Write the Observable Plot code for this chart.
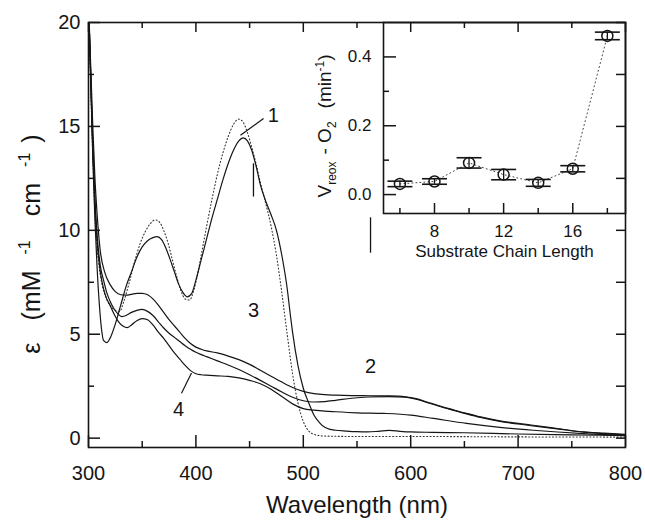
<!DOCTYPE html>
<html><head><meta charset="utf-8">
<script src="https://cdn.jsdelivr.net/npm/d3@7"></script>
<script src="https://cdn.jsdelivr.net/npm/@observablehq/plot@0.6"></script>
<style>
body{margin:0;background:#fff;}
#wrap{position:relative;width:645px;height:524px;overflow:hidden;}
#wrap svg{position:absolute;top:0;}
</style></head><body><div id="wrap"></div>
<script>
// ---------- main spectra ----------
const wl1 = [300,302,304,306,308,310,312,314,317,320,325,330,335,340,345,350,355,360,364,368,372,376,380,384,388,392,396,400,405,410,415,420,425,430,435,440,444,448,452,456,460,465,470,475,480,485,488,490,495,500,505,510,515,520,525,530,540,550,560,570,580,590,600,620,650,700,750,800];
const eps1 = [21,17.5,13.5,10.5,8.2,6.5,5.3,4.7,4.6,4.8,5.5,6.4,7.3,8.0,8.7,9.2,9.5,9.65,9.7,9.55,9.15,8.6,8.0,7.4,7.0,6.8,6.95,7.6,8.6,9.6,10.6,11.5,12.4,13.2,13.85,14.3,14.45,14.3,13.85,13.1,12.2,11.4,10.75,10.0,8.8,7.2,5.9,5.1,3.5,2.4,1.7,1.1,0.75,0.52,0.42,0.38,0.34,0.31,0.3,0.33,0.37,0.33,0.3,0.28,0.26,0.2,0.16,0.12];

const wl2 = [300,302,304,306,308,311,314,317,320,324,328,331,335,340,345,350,355,360,365,370,375,380,385,390,395,400,405,410,420,430,440,450,460,470,480,490,500,510,520,530,545,560,580,595,605,615,625,640,652,665,683,700,714,740,761,780,800];
const eps2 = [21,17.5,14,11.5,9.8,8.3,7.6,7.0,6.6,6.2,5.95,5.85,5.9,6.05,6.15,6.2,6.1,5.9,5.6,5.3,5.05,4.85,4.65,4.45,4.28,4.13,4.02,3.92,3.72,3.52,3.3,3.05,2.78,2.5,2.22,1.97,1.8,1.74,1.76,1.82,1.92,1.98,2.0,1.97,1.88,1.72,1.56,1.34,1.17,1.0,0.81,0.68,0.59,0.42,0.29,0.22,0.16];

const wl3 = [300,302,304,306,308,311,315,320,325,330,335,340,345,350,355,360,365,370,375,380,385,390,395,400,405,410,420,430,440,450,460,470,480,490,500,510,520,530,545,560,580,595,605,615,625,640,652,665,683,700,714,740,761,780,800];
const eps3 = [21,18,15,12.5,10.8,9.0,8.0,7.4,7.05,6.9,6.88,6.92,6.97,6.97,6.9,6.7,6.4,6.05,5.7,5.4,5.1,4.8,4.55,4.38,4.28,4.2,4.1,3.95,3.78,3.55,3.27,2.98,2.7,2.44,2.25,2.14,2.09,2.07,2.05,2.04,2.03,1.99,1.9,1.74,1.58,1.36,1.19,1.02,0.83,0.71,0.62,0.44,0.3,0.24,0.18];

const wl4 = [300,302,304,306,308,311,314,317,320,324,328,332,336,340,345,350,355,360,365,370,375,380,385,390,395,400,405,410,420,430,440,450,460,470,480,490,500,510,520,530,550,575,600,621,652,683,714,761,800];
const eps4 = [21,17.5,14,11.3,9.5,8.0,7.2,6.7,6.4,5.95,5.6,5.4,5.32,5.45,5.65,5.75,5.7,5.45,5.1,4.8,4.45,4.1,3.8,3.5,3.25,3.1,3.05,3.03,3.0,2.97,2.9,2.78,2.62,2.35,2.0,1.65,1.42,1.35,1.3,1.27,1.22,1.19,1.11,0.95,0.71,0.52,0.38,0.22,0.13];

// dotted (reference) spectrum
const wlOx = [300,302,304,306,308,310,313,316,320,325,329,333,338,343,348,353,358,362,366,370,374,378,382,386,390,394,398,402,406,410,415,420,425,430,435,440,444,448,452,456,460,465,470,475,480,485,490,495,500,505,510,520,550,600,700,800];
const epsOx = [21,17,13.5,10.8,9.2,8.2,7.3,6.8,6.4,6.15,6.1,6.6,7.5,8.5,9.35,9.95,10.35,10.5,10.4,10.0,9.4,8.6,7.8,7.1,6.7,6.65,7.1,8.0,9.1,10.2,11.5,12.7,13.7,14.5,15.1,15.35,15.2,14.7,14.0,13.2,12.3,11.3,10.2,8.8,7.0,5.0,3.1,1.7,0.8,0.35,0.18,0.1,0.08,0.08,0.06,0.05];

// curve labels and leader lines
const labelText = ["1","2","3","4"];
const labelWl   = [472, 562.6, 453.6, 383.8];
const labelEps  = [15.5, 3.43, 6.15, 1.35];
const leadWlA = [441.5, 395.9], leadEpsA = [14.57, 3.13];
const leadWlB = [463, 386.6],   leadEpsB = [15.38, 2.16];
const markWl = [453.6, 562.6], markLo = [11.6, 8.9], markHi = [13.2, 10.6];

// axis ticks
const xMajor = [300,400,500,600,700,800];
const xMinor = [350,450,550,650,750];
const yMajor = [0,5,10,15,20];
const yMinor = [2.5,7.5,12.5,17.5];

// ---------- inset ----------
const chain = [6,8,10,12,14,16,18];
const rate  = [0.031,0.038,0.092,0.058,0.034,0.075,0.461];
const rateErr = [0.008,0.008,0.015,0.015,0.010,0.009,0.011];
const inXMajor = [8,12,16], inXMinor = [6,10,14,18];
const inYMajor = [0,0.2,0.4], inYMinor = [0.1,0.3];

const font = "'Liberation Sans', Arial, Helvetica, sans-serif";
const ink = "#151515";

// inward tick marks drawn as short rules; the pixel length is converted to scale units
function inTicks(values, side, len, xd, yd, fw, fh) {
  const o = {stroke: ink, strokeWidth: 1.5};
  const ky = len * (yd[1] - yd[0]) / fh, kx = len * (xd[1] - xd[0]) / fw;
  const t = values.map(v => ({v}));
  if (side === "bottom") return Plot.ruleX(t, {x: "v", y1: yd[0], y2: yd[0] + ky, ...o});
  if (side === "top")    return Plot.ruleX(t, {x: "v", y1: yd[1] - ky, y2: yd[1], ...o});
  if (side === "left")   return Plot.ruleY(t, {y: "v", x1: xd[0], x2: xd[0] + kx, ...o});
  return Plot.ruleY(t, {y: "v", x1: xd[1] - kx, x2: xd[1], ...o});
}

const rows = [];
[[wl1,eps1,"1"],[wl2,eps2,"2"],[wl3,eps3,"3"],[wl4,eps4,"4"]].forEach(([w,e,id]) =>
  w.forEach((v,i) => rows.push({wl: v, eps: e[i], id})));
const ox = wlOx.map((v,i) => ({wl: v, eps: epsOx[i]}));
const labels = labelText.map((t,i) => ({t, wl: labelWl[i], eps: labelEps[i]}));
const leads = leadWlA.map((v,i) => ({x1: v, y1: leadEpsA[i], x2: leadWlB[i], y2: leadEpsB[i]}));
const strokes = markWl.map((v,i) => ({wl: v, lo: markLo[i], hi: markHi[i]}));

const M = {w: 645, h: 524, l: 88, r: 20, t: 22, b: 77};
const FW = M.w - M.l - M.r, FH = M.h - M.t - M.b;
const XD = [300, 800], YD = [-0.45, 20];

const main = Plot.plot({
  width: M.w, height: M.h,
  marginLeft: M.l, marginRight: M.r, marginTop: M.t, marginBottom: M.b,
  style: {fontFamily: font, background: "white", color: ink, overflow: "visible"},
  x: {domain: XD},
  y: {domain: YD},
  marks: [
    Plot.line(ox, {x: "wl", y: "eps", stroke: "#333", strokeWidth: 1.1, strokeDasharray: "1,2.4", curve: "monotone-x", clip: true}),
    Plot.line(rows, {x: "wl", y: "eps", z: "id", stroke: ink, strokeWidth: 1.2, curve: "monotone-x", clip: true}),
    Plot.link(leads, {x1: "x1", y1: "y1", x2: "x2", y2: "y2", stroke: ink, strokeWidth: 1.2}),
    Plot.ruleX(strokes, {x: "wl", y1: "lo", y2: "hi", stroke: ink, strokeWidth: 1.3}),
    Plot.text(labels, {x: "wl", y: "eps", text: "t", fontSize: 20, fill: ink}),
    Plot.frame({stroke: ink, strokeWidth: 1.6}),
    inTicks(xMajor, "bottom", 12, XD, YD, FW, FH), inTicks(xMinor, "bottom", 6, XD, YD, FW, FH),
    inTicks(xMajor, "top", 10, XD, YD, FW, FH), inTicks(xMinor, "top", 6, XD, YD, FW, FH),
    inTicks(yMajor, "left", 12, XD, YD, FW, FH), inTicks(yMinor, "left", 6, XD, YD, FW, FH),
    inTicks(yMajor.concat(yMinor), "right", 9, XD, YD, FW, FH),
    Plot.axisX(xMajor, {anchor: "bottom", tickSize: 0, tickPadding: 18, fontSize: 20, label: null}),
    Plot.axisY(yMajor, {anchor: "left", tickSize: 0, tickPadding: 8, fontSize: 20, label: null}),
    Plot.text(["Wavelength (nm)"], {frameAnchor: "bottom", dy: 65, fontSize: 24, fill: ink})
  ]
});
document.getElementById("wrap").appendChild(main);
main.style.left = "0px";

// y-axis title with superscripts
{
  const t = d3.select(main).append("text")
    .attr("transform", "translate(40,244) rotate(-90)")
    .attr("text-anchor", "middle")
    .attr("font-family", font).attr("font-size", 25).attr("fill", ink)
    .style("white-space", "pre");
  t.append("tspan").text("ε");
  t.append("tspan").attr("dx", 22).text("(mM");
  t.append("tspan").attr("dx", 16).attr("dy", -10).attr("font-size", 16).text("-1");
  t.append("tspan").attr("dx", 24).attr("dy", 10).text("cm");
  t.append("tspan").attr("dx", 16).attr("dy", -10).attr("font-size", 16).text("-1");
  t.append("tspan").attr("dx", 10).attr("dy", 10).text(")");
}

// ---------- inset plot ----------
const pts = chain.map((c,i) => ({c, v: rate[i], lo: rate[i] - rateErr[i], hi: rate[i] + rateErr[i]}));
const cap = {draw(ctx) { ctx.moveTo(-12.5, 0); ctx.lineTo(12.5, 0); }};
const N = {w: 345, h: 270, l: 83, r: 20, t: 22, b: 57};
const IW = N.w - N.l - N.r, IH = N.h - N.t - N.b;
const IXD = [5.05, 19.05], IYD = [-0.055, 0.5];
const inset = Plot.plot({
  width: N.w, height: N.h,
  marginLeft: N.l, marginRight: N.r, marginTop: N.t, marginBottom: N.b,
  style: {fontFamily: font, background: "transparent", color: ink, overflow: "visible"},
  x: {domain: IXD},
  y: {domain: IYD},
  marks: [
    Plot.line(pts, {x: "c", y: "v", stroke: "#444", strokeWidth: 1, strokeDasharray: "1,3"}),
    Plot.ruleX(pts, {x: "c", y1: "lo", y2: "hi", stroke: ink, strokeWidth: 1.3}),
    Plot.dot(pts, {x: "c", y: "hi", symbol: cap, stroke: ink, strokeWidth: 1.6}),
    Plot.dot(pts, {x: "c", y: "lo", symbol: cap, stroke: ink, strokeWidth: 1.6}),
    Plot.dot(pts, {x: "c", y: "v", r: 5.5, stroke: ink, fill: "none", strokeWidth: 1.5}),
    Plot.frame({stroke: ink, strokeWidth: 1.6}),
    inTicks(inXMajor, "bottom", 10, IXD, IYD, IW, IH), inTicks(inXMinor, "bottom", 5, IXD, IYD, IW, IH),
    inTicks(inYMajor, "left", 13, IXD, IYD, IW, IH), inTicks(inYMinor, "left", 6, IXD, IYD, IW, IH),
    Plot.axisX(inXMajor, {anchor: "bottom", tickSize: 0, tickPadding: 11, fontSize: 17, label: null}),
    Plot.axisY(inYMajor, {anchor: "left", tickSize: 0, tickPadding: 12, fontSize: 17, tickFormat: d3.format(".1f"), label: null}),
    Plot.text(["Substrate Chain Length"], {frameAnchor: "bottom", dy: 43, fontSize: 17, fill: ink})
  ]
});
document.getElementById("wrap").appendChild(inset);
inset.style.left = "300px";
{
  const t = d3.select(inset).append("text")
    .attr("transform", "translate(31,126) rotate(-90)")
    .attr("text-anchor", "middle")
    .attr("font-family", font).attr("font-size", 19).attr("fill", ink)
    .style("white-space", "pre");
  t.append("tspan").text("V");
  t.append("tspan").attr("dy", 5).attr("font-size", 12).text("reox");
  t.append("tspan").attr("dx", 7).attr("dy", -5).text("- O");
  t.append("tspan").attr("dy", 5).attr("font-size", 12).text("2");
  t.append("tspan").attr("dx", 13).attr("dy", -5).text("(min");
  t.append("tspan").attr("dy", -7).attr("font-size", 12).text("-1");
  t.append("tspan").attr("dy", 7).text(")");
}
</script>
</body></html>
